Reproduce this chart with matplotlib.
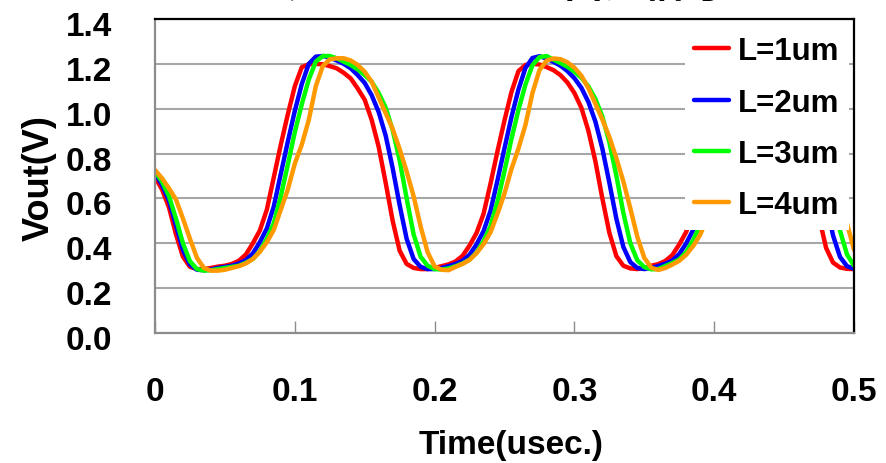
import numpy as np
import matplotlib
matplotlib.use("Agg")
import matplotlib.pyplot as plt
from matplotlib.transforms import ScaledTranslation

plt.rcParams['font.family'] = ['Liberation Sans', 'DejaVu Sans']
plt.rcParams['font.weight'] = 'bold'
plt.rcParams['axes.labelweight'] = 'bold'

# Sample times (usec), one sample every 5 ns
time_us = np.round(np.arange(0, 0.5001, 0.005), 3)

vout_l1 = [
    0.695, 0.64, 0.56, 0.44, 0.34, 0.295, 0.285, 0.285, 0.29, 0.296,
    0.30, 0.308, 0.322, 0.35, 0.40, 0.457, 0.55, 0.695, 0.84, 0.975,
    1.10, 1.185, 1.198, 1.20, 1.198, 1.19, 1.18, 1.16, 1.135, 1.09,
    1.04, 0.95, 0.83, 0.67, 0.50, 0.367, 0.308, 0.29, 0.285, 0.285,
    0.29, 0.298, 0.306, 0.319, 0.344, 0.39, 0.446, 0.531, 0.666, 0.811,
    0.948, 1.075, 1.168, 1.195, 1.20, 1.197, 1.186, 1.172, 1.15, 1.117,
    1.07, 1.004, 0.902, 0.766, 0.60, 0.447, 0.343, 0.30, 0.288, 0.285,
    0.29, 0.30, 0.307, 0.321, 0.347, 0.395, 0.451, 0.541, 0.681, 0.826,
    0.962, 1.088, 1.177, 1.197, 1.20, 1.198, 1.191, 1.181, 1.162, 1.138,
    1.095, 1.045, 0.959, 0.842, 0.686, 0.517, 0.38, 0.314, 0.292, 0.286,
    0.285,
]

vout_l2 = [
    0.712, 0.66, 0.59, 0.48, 0.37, 0.305, 0.282, 0.28, 0.283, 0.29,
    0.295, 0.30, 0.31, 0.325, 0.355, 0.405, 0.466, 0.565, 0.71, 0.853,
    0.99, 1.11, 1.20, 1.232, 1.235, 1.228, 1.215, 1.20, 1.18, 1.15,
    1.115, 1.06, 0.985, 0.88, 0.735, 0.57, 0.42, 0.33, 0.295, 0.285,
    0.285, 0.29, 0.298, 0.308, 0.322, 0.349, 0.395, 0.454, 0.545, 0.681,
    0.824, 0.963, 1.086, 1.182, 1.226, 1.234, 1.224, 1.209, 1.192, 1.168,
    1.136, 1.093, 1.03, 0.943, 0.822, 0.67, 0.51, 0.384, 0.316, 0.29,
    0.285, 0.29, 0.299, 0.309, 0.323, 0.352, 0.40, 0.46, 0.555, 0.696,
    0.839, 0.976, 1.098, 1.191, 1.229, 1.235, 1.229, 1.216, 1.201, 1.182,
    1.153, 1.119, 1.066, 0.993, 0.89, 0.75, 0.586, 0.435, 0.339, 0.298,
    0.286,
]

vout_l3 = [
    0.72, 0.675, 0.61, 0.51, 0.40, 0.32, 0.285, 0.278, 0.28, 0.285,
    0.29, 0.295, 0.30, 0.313, 0.33, 0.365, 0.42, 0.49, 0.61, 0.75,
    0.895, 1.02, 1.13, 1.21, 1.235, 1.235, 1.225, 1.21, 1.195, 1.175,
    1.15, 1.12, 1.07, 1.005, 0.905, 0.77, 0.60, 0.44, 0.34, 0.30,
    0.285, 0.283, 0.288, 0.298, 0.31, 0.327, 0.358, 0.409, 0.476, 0.586,
    0.722, 0.866, 0.995, 1.108, 1.194, 1.23, 1.235, 1.219, 1.204, 1.187,
    1.165, 1.138, 1.10, 1.044, 0.965, 0.851, 0.702, 0.536, 0.40, 0.324,
    0.294, 0.284, 0.285, 0.299, 0.312, 0.328, 0.361, 0.414, 0.483, 0.598,
    0.736, 0.881, 1.008, 1.119, 1.202, 1.233, 1.235, 1.226, 1.212, 1.197,
    1.177, 1.153, 1.123, 1.075, 1.011, 0.915, 0.784, 0.617, 0.456, 0.35,
    0.30,
]

vout_l4 = [
    0.727, 0.69, 0.645, 0.595, 0.51, 0.42, 0.335, 0.29, 0.278, 0.278,
    0.282, 0.29, 0.298, 0.31, 0.33, 0.362, 0.405, 0.46, 0.55, 0.64,
    0.755, 0.84, 0.95, 1.10, 1.19, 1.22, 1.225, 1.225, 1.215, 1.195,
    1.165, 1.12, 1.05, 0.98, 0.91, 0.82, 0.72, 0.61, 0.475, 0.36,
    0.297, 0.282, 0.28, 0.295, 0.308, 0.326, 0.356, 0.396, 0.449, 0.532,
    0.622, 0.732, 0.823, 0.928, 1.07, 1.172, 1.214, 1.224, 1.221, 1.207,
    1.183, 1.147, 1.092, 1.022, 0.952, 0.874, 0.78, 0.676, 0.556, 0.429,
    0.335, 0.291, 0.281, 0.29, 0.305, 0.322, 0.349, 0.388, 0.438, 0.514,
    0.604, 0.709, 0.806, 0.906, 1.04, 1.154, 1.208, 1.223, 1.225, 1.216,
    1.197, 1.169, 1.125, 1.057, 0.987, 0.917, 0.829, 0.73, 0.621, 0.488,
    0.371,
]

series_labels = ["L=1um", "L=2um", "L=3um", "L=4um"]
series_colors = ["#ff0000", "#0000ff", "#00ff00", "#ff9900"]

x_ticks = [0, 0.1, 0.2, 0.3, 0.4, 0.5]
x_tick_labels = ["0", "0.1", "0.2", "0.3", "0.4", "0.5"]
y_ticks = [0.0, 0.2, 0.4, 0.6, 0.8, 1.0, 1.2, 1.4]
y_tick_labels = ["0.0", "0.2", "0.4", "0.6", "0.8", "1.0", "1.2", "1.4"]

W, H = 887, 464
fig = plt.figure(figsize=(W / 100, H / 100), dpi=100)
ax = fig.add_axes([155 / W, 1 - 334 / H, (854 - 155) / W, (334 - 20) / H])

for vals, lab, col in zip([vout_l1, vout_l2, vout_l3, vout_l4],
                          series_labels, series_colors):
    ax.plot(time_us, vals, color=col, lw=3.2, label=lab,
            solid_joinstyle='round', solid_capstyle='round')

ax.set_xlim(0, 0.5)
ax.set_ylim(0, 1.4)
ax.set_xticks(x_ticks)
ax.set_xticklabels(x_tick_labels)
ax.set_yticks(y_ticks)
ax.set_yticklabels(y_tick_labels)

ax.yaxis.grid(True, color='#a6a6a6', lw=1.5)
ax.set_axisbelow(True)

ax.tick_params(axis='x', direction='in', length=9, width=1, color='#8c8c8c',
               labelsize=24, pad=31)
ax.tick_params(axis='y', length=0, labelsize=24, pad=31)

# nudge the y tick labels slightly downward
offset = ScaledTranslation(0, -4 / 100, fig.dpi_scale_trans)
for lbl in ax.get_yticklabels():
    lbl.set_transform(lbl.get_transform() + offset)

for side in ('top', 'right'):
    ax.spines[side].set_color('black')
    ax.spines[side].set_linewidth(1.6)
for side in ('left', 'bottom'):
    ax.spines[side].set_color('#8c8c8c')
    ax.spines[side].set_linewidth(1.6)

ax.set_xlabel("Time(usec.)", fontsize=24)
ax.xaxis.set_label_coords(0.51, -0.305)
ax.set_ylabel("Vout(V)", fontsize=26)
ax.yaxis.set_label_coords(-0.14, 0.497)

leg = ax.legend(loc='upper right', bbox_to_anchor=(849 / W, 1 - 28 / H),
                bbox_transform=fig.transFigure, fontsize=22.5,
                handlelength=1.1, handletextpad=0.3, labelspacing=0.68,
                borderpad=0.3, borderaxespad=0, frameon=True, fancybox=False)
leg.get_frame().set_facecolor('white')
leg.get_frame().set_edgecolor('none')
leg.get_frame().set_alpha(1)
for line in leg.get_lines():
    line.set_linewidth(3.2)

fig.text(0.522, 1 + 3 / H, "リングオシレータの出力信号", ha='center', va='baseline',
         fontsize=29, family=['Noto Sans CJK JP', 'DejaVu Sans'])

fig.savefig("out.png", dpi=100)
